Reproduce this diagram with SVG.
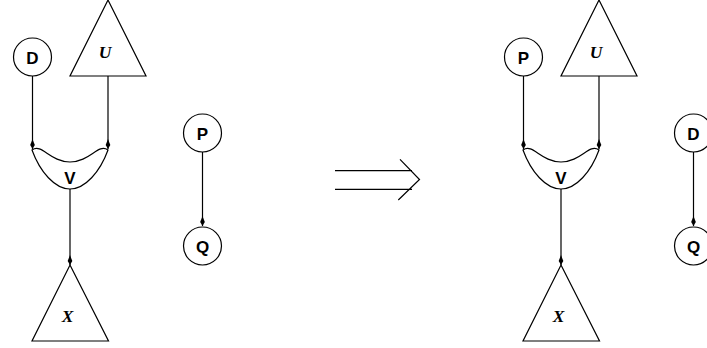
<svg xmlns="http://www.w3.org/2000/svg" width="707" height="348" viewBox="0 0 707 348">
<style>
.s{fill:#fff;stroke:#000;stroke-width:1.2}
.e{fill:none;stroke:#000;stroke-width:1.2}
.l{font-family:"Liberation Sans",Arial,sans-serif;font-weight:bold;font-size:17px;text-anchor:middle}
.t{font-family:"Liberation Serif","Times New Roman",serif;font-weight:bold;font-style:italic;font-size:17.5px;text-anchor:middle}
</style>
<defs>
<marker id="a" markerUnits="userSpaceOnUse" markerWidth="12" markerHeight="8" refX="11" refY="4" orient="auto" viewBox="0 0 12 8">
<path d="M11,4 L7,1.7 L1,4 L7,6.3 Z" fill="#000"/>
</marker>
</defs>
<g id="connectors">
<path class="e" d="M32.5,76 V149" marker-end="url(#a)"/>
<path class="e" d="M108,76 V149" marker-end="url(#a)"/>
<path class="e" d="M70,189 V265" marker-end="url(#a)"/>
<path class="e" d="M202.5,152 V226" marker-end="url(#a)"/>
<path class="e" d="M523.5,76 V149" marker-end="url(#a)"/>
<path class="e" d="M599,76 V149" marker-end="url(#a)"/>
<path class="e" d="M561,189 V265" marker-end="url(#a)"/>
<path class="e" d="M693.5,152 V226" marker-end="url(#a)"/>
</g>
<g id="implies">
<path class="e" d="M335,170.7 H412 M335,189.3 H412 M400,159.3 L419.5,179.5 L398.3,200"/>
</g>
<g id="D1"><circle class="s" cx="32.5" cy="57" r="19"/><text class="l" x="32.5" y="63.5">D</text></g>
<g id="U1"><path class="s" d="M108,0 L146,76 L70,76 Z"/><text class="t" x="105" y="57.5">U</text></g>
<g id="V1"><path class="s" d="M32,150 C40,172 55,189 70,189 C85,189 100,172 108,150 C98,143 90,162 70,162 C50,162 42,143 32,150 Z"/><text class="l" x="70" y="184">V</text></g>
<g id="X1"><path class="s" d="M70,265 L108.5,341 L32,341 Z"/><text class="t" x="67.5" y="321.5">X</text></g>
<g id="P1"><circle class="s" cx="202.5" cy="133" r="19"/><text class="l" x="202.5" y="139.5">P</text></g>
<g id="Q1"><circle class="s" cx="202.5" cy="246" r="19"/><text class="l" x="202.5" y="252.5">Q</text></g>
<g id="P2"><circle class="s" cx="523.5" cy="57" r="19"/><text class="l" x="523.5" y="63.5">P</text></g>
<g id="U2"><path class="s" d="M599,0 L637,76 L561,76 Z"/><text class="t" x="596" y="57.5">U</text></g>
<g id="V2"><path class="s" d="M523,150 C531,172 546,189 561,189 C576,189 591,172 599,150 C589,143 581,162 561,162 C541,162 533,143 523,150 Z"/><text class="l" x="561" y="184">V</text></g>
<g id="X2"><path class="s" d="M561,265 L599.5,341 L523,341 Z"/><text class="t" x="558.5" y="321.5">X</text></g>
<g id="D2"><circle class="s" cx="693.5" cy="133" r="19"/><text class="l" x="693.5" y="139.5">D</text></g>
<g id="Q2"><circle class="s" cx="693.5" cy="246" r="19"/><text class="l" x="693.5" y="252.5">Q</text></g>
</svg>
